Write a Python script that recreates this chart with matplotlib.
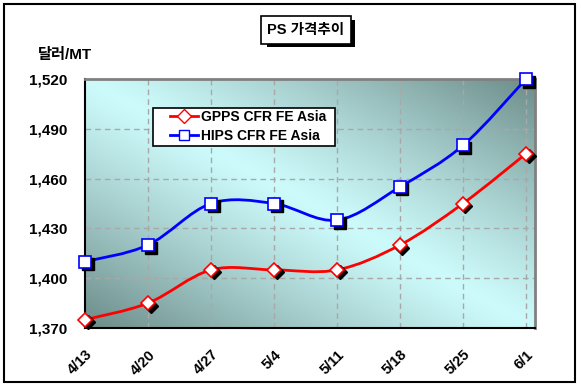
import numpy as np
import matplotlib
matplotlib.use("Agg")
import matplotlib.pyplot as plt
from matplotlib.path import Path
from matplotlib.patches import PathPatch, Rectangle
from matplotlib.colors import to_rgb
import matplotlib.transforms as mtransforms

plt.rcParams['font.family'] = ['Liberation Sans', 'Noto Sans CJK KR', 'DejaVu Sans']

categories = ['4/13', '4/20', '4/27', '5/4', '5/11', '5/18', '5/25', '6/1']
gpps = [1375, 1385, 1405, 1405, 1405, 1420, 1445, 1475]
hips = [1410, 1420, 1445, 1445, 1435, 1455, 1480, 1520]
series_names = ['GPPS CFR FE Asia', 'HIPS CFR FE Asia']
yticks = [1370, 1400, 1430, 1460, 1490, 1520]
title = 'PS 가격추이'
ylabel = '달러/MT'

W, H = 581, 387
fig = plt.figure(figsize=(W / 100, H / 100), dpi=100)
fig.patch.set_facecolor('white')

L, R, T, B = 85, 535, 79, 328
ax = fig.add_axes([L / W, 1 - B / H, (R - L) / W, (B - T) / H])

x = np.arange(len(categories))
ax.set_xlim(0, 7 + 9 / 63)
ax.set_ylim(1370, 1520)

# gradient background
light = np.array(to_rgb('#cdfbfb'))
dark = np.array(to_rgb('#6c8c89'))
n = 200
gx, gy = np.meshgrid(np.linspace(0, 1, n), np.linspace(1, 0, n))
s = (gx + gy) / 2
t = np.clip(np.abs(s - 0.5) * 2, 0, 1) ** 1.15
img = light[None, None, :] + (dark - light)[None, None, :] * t[..., None]
ax.imshow(img, extent=[0, 1, 0, 1], transform=ax.transAxes, aspect='auto', zorder=0, interpolation='bilinear')

# grid
for xi in x[1:]:
    ax.axvline(xi, color='#a8a8a8', lw=1, ls=(0, (4, 3)), zorder=1)
for yt in yticks[1:-1]:
    ax.axhline(yt, color='#a8a8a8', lw=1, ls=(0, (4, 3)), zorder=1)

def smooth_path(xs, ys):
    P = np.column_stack([xs, ys]).astype(float)
    verts = [P[0]]
    codes = [Path.MOVETO]
    nP = len(P)
    for i in range(nP - 1):
        p0 = P[i - 1] if i > 0 else P[i]
        p1 = P[i]
        p2 = P[i + 1]
        p3 = P[i + 2] if i + 2 < nP else P[i + 1]
        c1 = p1 + (p2 - p0) / 6
        c2 = p2 - (p3 - p1) / 6
        verts += [c1, c2, p2]
        codes += [Path.CURVE4] * 3
    return Path(verts, codes)

shadow_tr = mtransforms.offset_copy(ax.transData, fig=fig, x=2.5, y=-2.5, units='dots')

for vals, col, mk, ms in [(gpps, '#ff0000', 'D', 7.5), (hips, '#0000ff', 's', 8.5)]:
    p = PathPatch(smooth_path(x, vals), fill=False, edgecolor=col, lw=2.0, zorder=3, clip_on=False)
    ax.add_patch(p)
    ax.plot(x, vals, ls='none', marker=mk, ms=ms, mfc='black', mec='black', mew=1.0,
            transform=shadow_tr, zorder=4, clip_on=False)
    ax.plot(x, vals, ls='none', marker=mk, ms=ms, mfc='white', mec=col, mew=1.2,
            zorder=5, clip_on=False)

# spines
for side in ['top', 'right']:
    ax.spines[side].set_color('#808080')
    ax.spines[side].set_linewidth(2)
for side in ['left', 'bottom']:
    ax.spines[side].set_color('black')
    ax.spines[side].set_linewidth(1.5)

ax.set_yticks(yticks)
ax.set_yticklabels([f'{v:,}' for v in yticks], fontsize=11, fontweight='bold')
ax.set_xticks(x)
ax.set_xticklabels(categories, fontsize=10.5, fontweight='bold', rotation=45,
                   ha='right', va='top', rotation_mode='anchor')
ax.tick_params(axis='both', length=0)
ax.tick_params(axis='y', pad=13)
ax.tick_params(axis='x', pad=14)

# legend box (drawn manually) and frameless legend
fig.patches.append(Rectangle((153 / W, 1 - 146 / H), 182 / W, 38 / H, transform=fig.transFigure,
                             fc='white', ec='black', lw=1.2, zorder=8))
legend_handles = [
    plt.Line2D([], [], color='#ff0000', lw=2, marker='D', ms=7, mfc='white', mec='#ff0000'),
    plt.Line2D([], [], color='#0000ff', lw=2, marker='s', ms=7.5, mfc='white', mec='#0000ff'),
]
leg = fig.legend(legend_handles, series_names, loc='upper left',
                 bbox_to_anchor=(170 / W, 1 - 110 / H), bbox_transform=fig.transFigure,
                 frameon=False, prop={'weight': 'bold', 'size': 10}, handlelength=2.0,
                 handletextpad=0.2, borderpad=0, labelspacing=0.35, borderaxespad=0)
leg.set_zorder(10)

# title box with shadow
fig.text(306 / W, 1 - 30 / H, title, ha='center', va='center', fontsize=10.5, fontweight='bold',
         bbox=dict(boxstyle='square,pad=0.45', fc='white', ec='black', lw=1.2))
fig.patches.append(Rectangle(((264 + 3) / W, 1 - (44 + 3) / H), 88 / W, 27 / H,
                             transform=fig.transFigure, fc='black', ec='none', zorder=0))

fig.text(38 / W, 1 - 55 / H, ylabel, ha='left', va='center', fontsize=11, fontweight='bold')

# outer frame
fig.patches.append(Rectangle((4 / W, 1 - 382 / H), 571 / W, 378 / H, transform=fig.transFigure,
                             fill=False, ec='black', lw=1.5, zorder=20))

fig.savefig('out.png', dpi=100, facecolor='white')
